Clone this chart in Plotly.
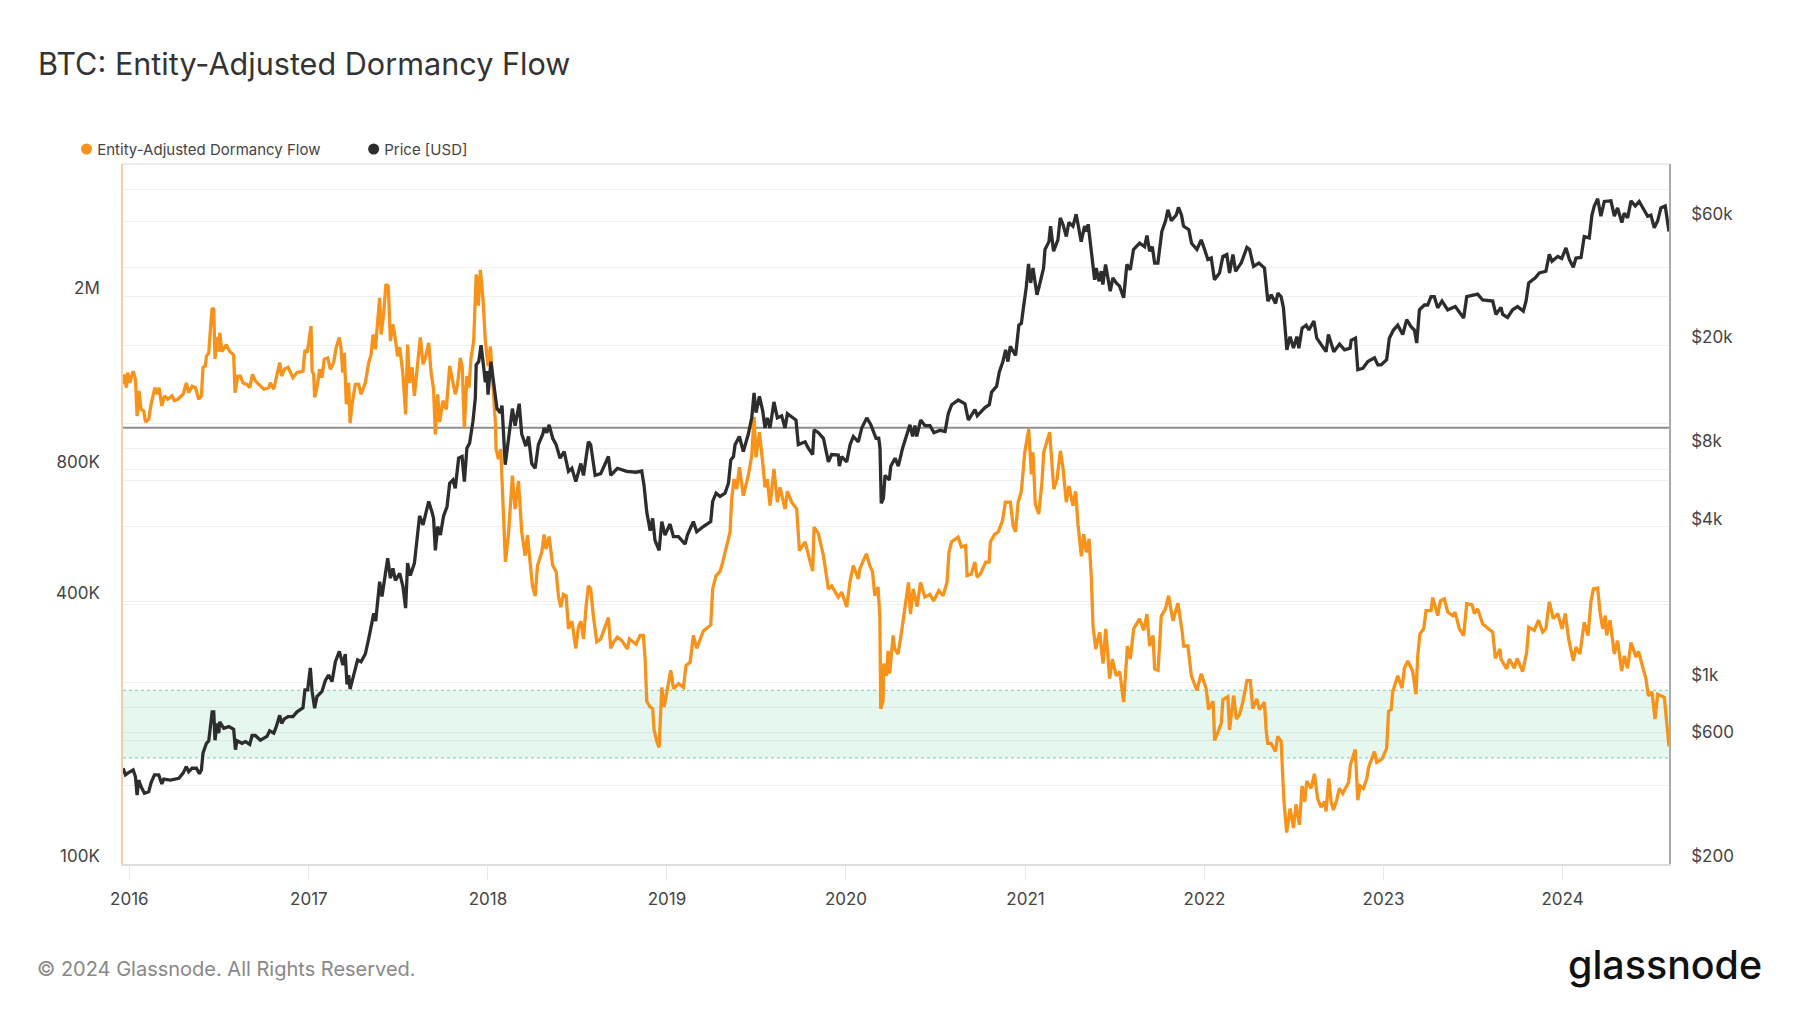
import pandas as pd
import plotly.graph_objects as go

TITLE = "BTC: Entity-Adjusted Dormancy Flow"
FOOTER = "© 2024 Glassnode. All Rights Reserved."
BRAND = "glassnode"
FLOW_NAME = "Entity-Adjusted Dormancy Flow"
PRICE_NAME = "Price [USD]"

flow_years = [
2015.965,2015.972,2015.983,2015.991,2016.002,2016.021,2016.034,2016.043,2016.054,2016.065,2016.080,2016.090,2016.108,2016.121,2016.143,2016.155,2016.166,2016.181,2016.196,2016.214,2016.238,2016.251,2016.270,2016.300,2016.318,2016.331,2016.350,2016.369,2016.387,2016.402,2016.411,2016.424,2016.430,2016.443,2016.456,2016.462,2016.471,2016.478,2016.489,2016.499,2016.504,2016.517,2016.541,2016.560,2016.582,2016.590,2016.605,2016.620,2016.634,2016.657,2016.672,2016.687,2016.703,2016.731,2016.750,2016.778,2016.787,2016.806,2016.820,2016.839,2016.850,2016.865,2016.886,2016.913,2016.936,2016.969,2016.980,2016.992,2017.001,2017.014,2017.020,2017.029,2017.034,2017.047,2017.062,2017.075,2017.088,2017.107,2017.122,2017.140,2017.155,2017.172,2017.181,2017.191,2017.200,2017.211,2017.224,2017.232,2017.243,2017.261,2017.280,2017.293,2017.317,2017.336,2017.349,2017.360,2017.373,2017.386,2017.397,2017.405,2017.419,2017.432,2017.445,2017.457,2017.471,2017.485,2017.497,2017.509,2017.527,2017.542,2017.553,2017.564,2017.578,2017.591,2017.605,2017.624,2017.639,2017.652,2017.671,2017.684,2017.698,2017.708,2017.721,2017.732,2017.750,2017.769,2017.788,2017.806,2017.819,2017.832,2017.847,2017.858,2017.870,2017.884,2017.896,2017.907,2017.922,2017.936,2017.948,2017.959,2017.974,2017.987,2018.002,2018.015,2018.029,2018.043,
2018.047,2018.060,2018.073,2018.088,2018.099,2018.116,2018.138,2018.153,2018.172,2018.190,2018.209,2018.222,2018.237,2018.250,2018.265,2018.278,2018.302,2018.315,2018.326,2018.343,2018.363,2018.382,2018.395,2018.408,2018.423,2018.438,2018.451,2018.470,2018.492,2018.507,2018.520,2018.535,2018.549,2018.562,2018.575,2018.590,2018.609,2018.631,2018.674,2018.687,2018.702,2018.724,2018.749,2018.780,2018.791,2018.828,2018.851,2018.869,2018.879,2018.888,2018.907,2018.921,2018.929,2018.944,2018.957,2018.972,2018.985,2019.000,2019.022,2019.037,2019.065,2019.093,2019.107,2019.130,2019.148,2019.167,2019.204,2019.245,2019.256,2019.275,2019.297,2019.312,2019.334,2019.353,2019.362,2019.375,2019.390,2019.405,2019.427,2019.455,2019.474,2019.487,2019.498,2019.517,2019.535,2019.548,2019.561,2019.576,2019.598,2019.617,2019.632,2019.660,2019.673,2019.697,2019.725,2019.740,2019.772,2019.790,2019.814,2019.822,2019.846,2019.874,2019.902,2019.920,2019.957,2019.976,2020.004,2020.023,2020.041,2020.069,
2020.077,2020.096,2020.114,2020.133,2020.148,2020.161,2020.179,2020.189,2020.194,2020.207,2020.211,2020.226,2020.235,2020.244,2020.263,2020.272,2020.291,2020.310,2020.323,2020.330,2020.349,2020.360,2020.375,2020.397,2020.416,2020.440,2020.468,2020.490,2020.518,2020.542,2020.564,2020.575,2020.589,2020.626,2020.644,2020.668,2020.676,2020.700,2020.719,2020.732,2020.750,2020.780,2020.799,2020.806,2020.830,2020.849,2020.873,2020.890,2020.918,2020.933,2020.946,2020.961,2020.979,2020.998,2021.020,2021.035,2021.044,2021.057,2021.076,2021.094,2021.104,2021.137,2021.160,2021.178,2021.197,2021.212,2021.230,2021.245,2021.267,2021.282,2021.295,2021.314,2021.327,2021.342,2021.357,2021.370,2021.379,2021.394,2021.416,2021.435,2021.450,2021.472,2021.487,2021.509,2021.528,2021.550,2021.571,2021.587,2021.606,2021.639,2021.662,2021.680,2021.695,2021.714,2021.723,2021.742,2021.760,2021.783,2021.801,2021.825,2021.853,2021.877,2021.885,2021.909,2021.928,2021.959,2021.983,2022.011,2022.024,2022.049,2022.058,2022.095,2022.104,2022.132,2022.141,2022.164,2022.179,2022.197,2022.216,2022.238,2022.257,
2022.271,2022.293,2022.308,2022.336,2022.345,2022.354,2022.373,2022.397,2022.410,2022.429,2022.444,2022.460,2022.479,2022.498,2022.512,2022.531,2022.546,2022.561,2022.572,2022.596,2022.615,2022.633,2022.652,2022.671,2022.680,2022.695,2022.708,2022.721,2022.739,2022.754,2022.773,2022.806,2022.816,2022.843,2022.857,2022.870,2022.888,2022.907,2022.918,2022.950,2022.963,2022.992,2023.018,2023.029,2023.043,2023.052,2023.080,2023.104,2023.117,2023.136,2023.163,2023.182,2023.191,2023.204,2023.225,2023.238,2023.266,2023.275,2023.303,2023.318,2023.340,2023.359,2023.387,2023.400,2023.424,2023.448,2023.465,2023.494,2023.508,2023.526,2023.554,2023.587,2023.610,2023.625,2023.651,2023.656,2023.688,2023.703,2023.731,2023.746,2023.777,2023.800,2023.811,2023.842,2023.866,2023.889,2023.907,2023.926,2023.948,2023.973,2023.997,2024.015,2024.034,2024.060,2024.075,2024.097,2024.121,2024.142,2024.159,2024.172,2024.196,2024.209,2024.224,2024.239,2024.246,2024.265,2024.289,2024.307,2024.330,2024.345,2024.363,2024.382,2024.410,2024.424,2024.447,2024.465,2024.479,2024.499,2024.516,2024.531,2024.549,2024.568,2024.581,2024.594,
]
flow_k = [
1257,1325,1235,1338,1267,1348,1291,1063,1215,1102,1092,1030,1046,1132,1235,1193,1235,1122,1183,1162,1183,1153,1162,1193,1267,1203,1245,1235,1162,1183,1375,1385,1458,1485,1755,1880,1868,1438,1610,1495,1650,1495,1550,1495,1470,1203,1313,1313,1267,1257,1235,1325,1280,1245,1225,1235,1267,1225,1291,1410,1313,1361,1375,1302,1338,1348,1508,1485,1565,1710,1348,1325,1173,1235,1361,1302,1435,1445,1361,1410,1530,1610,1525,1338,1485,1132,1267,1024,1132,1257,1257,1193,1267,1410,1470,1635,1513,1755,1985,1635,1820,2130,2110,1580,1725,1595,1458,1530,1325,1073,1550,1267,1375,1183,1338,1610,1398,1445,1565,1338,1225,965,1193,1030,1153,1102,1385,1257,1193,1257,1445,1375,996,1313,1235,1445,1580,2245,1905,2300,1970,1580,1385,1535,1225,1030,
893,847,893,663,493,569,777,651,755,577,509,567,500,434,411,483,518,569,527,563,483,468,412,388,415,412,346,360,312,350,360,328,388,434,427,370,323,328,367,312,322,331,325,311,328,319,334,334,295,236,229,227,203,191,185,254,229,248,278,252,259,254,285,290,334,312,342,353,427,458,468,492,537,577,686,762,723,812,698,777,862,1057,855,977,833,730,762,663,804,675,730,651,715,675,651,523,547,509,469,592,572,509,427,434,409,420,388,445,483,450,
474,495,514,483,468,412,431,370,227,236,288,270,308,273,334,311,303,340,370,399,442,374,427,389,442,409,415,401,423,412,442,518,547,561,533,537,458,462,492,454,462,492,492,547,570,576,611,675,675,596,577,675,715,878,992,782,878,668,634,749,878,977,723,762,885,804,675,735,663,715,601,507,570,518,556,450,351,311,340,288,346,266,295,270,276,235,316,295,346,365,343,374,316,334,280,278,370,384,412,361,396,340,316,316,270,250,273,252,226,236,192,210,238,242,203,243,215,220,236,263,263,
227,239,226,235,204,189,189,181,196,191,141,118,134,121,137,123,151,139,155,149,161,141,135,139,132,157,139,133,140,149,145,154,169,183,140,151,149,157,167,181,171,174,184,224,226,248,270,253,281,292,277,245,298,337,346,381,381,408,371,401,405,378,371,378,346,334,395,393,375,384,355,346,340,296,311,295,280,295,281,296,276,306,349,343,362,340,346,399,365,375,346,375,328,292,314,303,358,334,401,427,429,378,346,371,334,362,303,325,277,300,281,322,298,307,285,266,243,248,215,245,243,241,212,186,
]

price_years = [
2015.965,2015.978,2015.991,2016.021,2016.034,2016.043,2016.052,2016.065,2016.084,2016.108,2016.121,2016.140,2016.164,2016.181,2016.192,2016.229,2016.276,2016.300,2016.318,2016.331,2016.350,2016.374,2016.391,2016.402,2016.411,2016.430,2016.443,2016.456,2016.462,2016.471,2016.478,2016.489,2016.499,2016.504,2016.527,2016.555,2016.582,2016.592,2016.601,2016.629,2016.648,2016.672,2016.685,2016.703,2016.731,2016.768,2016.783,2016.806,2016.820,2016.839,2016.850,2016.865,2016.886,2016.913,2016.936,2016.969,2016.980,2016.995,2017.010,2017.020,2017.034,2017.047,2017.075,2017.094,2017.112,2017.131,2017.150,2017.172,2017.181,2017.192,2017.205,2017.215,2017.224,2017.232,2017.252,2017.274,2017.293,2017.317,2017.336,2017.349,2017.364,2017.375,2017.386,2017.397,2017.410,2017.429,2017.442,2017.457,2017.471,2017.485,2017.509,2017.527,2017.542,2017.553,2017.568,2017.591,2017.602,2017.620,2017.639,2017.671,2017.689,2017.698,2017.708,2017.721,2017.736,2017.754,2017.773,2017.788,2017.806,2017.819,2017.838,2017.857,2017.870,2017.884,2017.899,2017.918,2017.931,2017.936,2017.950,2017.963,2017.974,2017.987,2017.996,2018.002,2018.018,2018.033,2018.052,2018.070,2018.080,2018.098,
2018.116,2018.138,2018.153,2018.176,2018.190,2018.213,2018.228,2018.246,2018.265,2018.283,2018.308,2018.315,2018.330,2018.343,2018.363,2018.382,2018.404,2018.427,2018.451,2018.470,2018.492,2018.507,2018.520,2018.535,2018.549,2018.562,2018.575,2018.600,2018.631,2018.674,2018.687,2018.724,2018.776,2018.828,2018.860,2018.873,2018.888,2018.907,2018.921,2018.934,2018.957,2018.972,2018.990,2019.018,2019.037,2019.065,2019.102,2019.115,2019.148,2019.167,2019.204,2019.245,2019.256,2019.275,2019.297,2019.325,2019.344,2019.357,2019.372,2019.381,2019.405,2019.427,2019.455,2019.474,2019.487,2019.498,2019.517,2019.535,2019.548,2019.561,2019.576,2019.598,2019.617,2019.641,2019.660,2019.673,2019.721,2019.734,2019.772,2019.790,2019.814,2019.822,2019.846,2019.874,2019.902,2019.920,2019.957,2019.963,2019.976,2020.004,2020.023,2020.041,2020.069,2020.088,2020.116,2020.138,2020.168,2020.183,2020.190,2020.197,2020.209,2020.218,2020.242,2020.250,2020.274,2020.292,2020.316,2020.335,2020.357,2020.372,2020.385,2020.395,2020.417,2020.441,2020.469,2020.491,2020.525,2020.553,2020.571,2020.590,2020.627,2020.664,2020.683,2020.720,2020.733,2020.776,2020.800,2020.813,2020.841,
2020.856,2020.876,2020.891,2020.904,2020.917,2020.947,2020.965,2020.979,2020.988,2021.006,2021.019,2021.031,2021.044,2021.066,2021.081,2021.103,2021.111,2021.133,2021.142,2021.159,2021.183,2021.196,2021.211,2021.230,2021.244,2021.267,2021.285,2021.298,2021.313,2021.332,2021.345,2021.352,2021.369,2021.388,2021.397,2021.412,2021.425,2021.434,2021.449,2021.475,2021.490,2021.509,2021.527,2021.550,2021.568,2021.587,2021.605,2021.639,2021.667,2021.680,2021.695,2021.710,2021.723,2021.741,2021.763,2021.784,2021.797,2021.816,2021.843,2021.856,2021.873,2021.884,2021.914,2021.929,2021.959,2021.983,2022.002,2022.020,2022.039,2022.057,2022.085,2022.104,2022.126,2022.141,2022.160,2022.175,2022.193,2022.206,2022.238,2022.253,2022.275,2022.305,2022.336,2022.355,2022.374,2022.398,2022.411,2022.429,2022.442,2022.461,2022.479,2022.498,2022.517,2022.528,2022.546,2022.569,2022.584,2022.612,2022.628,2022.662,2022.680,2022.693,2022.723,2022.755,2022.783,2022.814,2022.820,2022.844,2022.857,2022.885,2022.913,2022.950,2022.969,
2022.987,2023.018,2023.033,2023.056,2023.080,2023.108,2023.130,2023.154,2023.173,2023.186,2023.201,2023.229,2023.247,2023.266,2023.284,2023.303,2023.327,2023.359,2023.401,2023.424,2023.448,2023.465,2023.489,2023.526,2023.554,2023.610,2023.628,2023.656,2023.666,2023.693,2023.721,2023.749,2023.781,2023.796,2023.811,2023.848,2023.870,2023.907,2023.926,2023.941,2023.973,2023.995,2024.019,2024.038,2024.060,2024.075,2024.103,2024.121,2024.149,2024.164,2024.177,2024.196,2024.214,2024.233,2024.270,2024.289,2024.307,2024.331,2024.344,2024.363,2024.382,2024.406,2024.428,2024.475,2024.493,2024.512,2024.531,2024.549,2024.573,2024.594,
]
price_usd = [
468,441,448,461,434,369,421,398,375,380,411,441,441,407,425,421,428,448,475,454,468,468,446,461,535,584,597,749,772,772,600,697,639,707,667,677,662,552,597,584,593,578,626,626,600,621,652,639,677,749,697,725,740,740,772,800,938,938,1140,926,797,884,926,1020,1070,1010,1205,1320,1240,1170,1290,985,1070,945,1070,1225,1205,1290,1480,1670,1850,1730,2120,2450,2150,2690,3020,2530,2760,2480,2640,2350,1940,2890,2590,2890,3390,4400,4060,5000,4550,4300,3240,4000,3710,4400,4770,5880,6050,5620,7340,7450,5960,8020,8380,10200,12500,16800,17300,20000,17300,14400,15900,12900,17300,14400,11400,11000,11700,6930,
8490,11400,9800,11900,9100,8170,8900,7000,6710,8280,9100,9600,9200,9870,8760,8280,7340,7780,6530,6710,5960,6600,7000,6300,7580,8490,8280,6300,6400,7450,6300,6710,6530,6480,6550,5750,4550,3860,4300,3540,3240,4180,3710,4090,3660,3660,3420,3710,4180,3820,4000,4180,5000,5380,5230,5380,5880,7220,7450,8280,8900,7780,9100,10500,13100,11000,12700,11200,9600,10500,9600,12100,10500,10700,9600,10900,10300,8280,8490,8020,7580,9450,9200,8760,7100,7580,7550,6840,7450,7100,8280,8900,8490,9600,10500,9900,8760,8760,8020,4920,5140,6300,6050,6840,7340,6840,8020,8900,9870,8900,9800,8900,10300,9800,9800,9200,9400,9300,10900,11800,12300,11900,10300,11300,10700,11500,11800,13200,13900,
15800,17300,19200,17300,19800,18300,23900,24300,27100,33300,41200,34800,39700,31300,34300,39700,46800,50200,57600,46100,51000,62000,58600,52500,59500,57600,64000,56700,50200,57600,54900,58600,46100,35800,39700,35300,38600,34300,41000,32300,36400,34800,33800,30500,41000,39100,46800,49500,48000,53000,46100,48000,41500,41500,54900,60400,66600,60400,63500,68000,63500,57600,55800,49500,46800,51000,46800,42800,43400,35800,38000,44000,44800,38000,44800,38600,40300,41500,47700,46800,40300,41500,39700,29600,31300,29000,31800,30800,27900,19200,21600,19500,21600,19500,23300,23900,22900,24800,21300,19800,18900,22000,18900,20200,19200,19500,20900,21300,16100,16300,17300,17900,16800,
16800,17600,21300,22900,23900,22000,25100,23600,22900,20400,27400,28600,28600,30800,30800,27900,29600,27400,28200,26700,25500,30800,31100,31500,29900,29600,26300,28000,26300,25600,27400,28200,27100,29600,34800,36400,38000,38600,44800,42200,44000,43200,47500,42800,40000,43400,43600,52500,51900,63500,68900,73500,62900,71700,72100,62900,67700,59500,64600,62000,72100,68900,71700,62900,63500,56700,60400,67700,68900,54900,
]

band_low = 175000
band_high = 250000
reference_level = 1000000

flow_ticks = [100000, 200000, 400000, 800000, 2000000]
flow_text = ["100K", "", "400K", "800K", "2M"]
price_ticks = [200, 400, 600, 800, 1000, 2000, 4000, 6000, 8000, 10000, 20000, 40000, 60000, 80000]
price_text = ["$200", "", "$600", "", "$1k", "", "$4k", "", "$8k", "", "$20k", "", "$60k", ""]
year_ticks = [f"{y}-01-01" for y in range(2016, 2025)]
year_text = [str(y) for y in range(2016, 2025)]

ORANGE = "#F7931A"
DARK = "#2D2D2D"
GRID = "rgba(0,0,0,0.06)"
FONT = "Inter, Noto Sans, sans-serif"

def to_dates(years):
    return [pd.Timestamp("2016-01-01") + pd.Timedelta(days=(y - 2016) * 365.25) for y in years]

fig = go.Figure()
fig.add_trace(go.Scatter(x=to_dates(flow_years), y=[v * 1000 for v in flow_k], mode="lines",
                         name=FLOW_NAME, showlegend=False, yaxis="y",
                         line=dict(color=ORANGE, width=3.3)))
fig.add_trace(go.Scatter(x=to_dates(price_years), y=price_usd, mode="lines",
                         name=PRICE_NAME, showlegend=False, yaxis="y2",
                         line=dict(color=DARK, width=3.3)))
# Legend entries: the keys are transparent here, their dots are drawn at the reference's spacing below
for nm in (FLOW_NAME, PRICE_NAME):
    fig.add_trace(go.Scatter(x=[None], y=[None], mode="markers", name=nm,
                             marker=dict(color="rgba(0,0,0,0)", size=11), yaxis="y"))

# The page keeps an 8px body margin, so the figure is placed 8px in from the window corner
PW, PH = 1792, 1005
L, R, T, B = 114.5, 1661.5, 156.3, 856.3
PLOT_W, PLOT_H = R - L, B - T

def px(x):
    return (x - L) / PLOT_W

def py(y):
    return (B - y) / PLOT_H

def dot(cx, cy, color, r=5.5):
    return dict(type="circle", xref="paper", yref="paper", x0=px(cx - r), x1=px(cx + r),
                y0=py(cy + r), y1=py(cy - r), fillcolor=color, line=dict(width=0), layer="above")

fig.update_layout(
    width=PW, height=PH, autosize=False,
    margin=dict(l=L, r=PW - R, t=T, b=PH - B, pad=0),
    paper_bgcolor="white", plot_bgcolor="white",
    font=dict(family=FONT, color="#444444", size=17),
    title=dict(text=TITLE, x=30 / PW, xanchor="left", y=1 - 56.3 / PH, yanchor="middle",
               font=dict(size=30.6, color="#333333", family=FONT)),
    showlegend=True,
    legend=dict(orientation="h", x=px(76 - 27.3), xanchor="left", y=py(158), yanchor="bottom",
                entrywidth=242, entrywidthmode="pixels", itemsizing="trace",
                font=dict(size=15, color="#444444"), bgcolor="rgba(0,0,0,0)"),
    hovermode=False,
    xaxis=dict(type="date", range=["2015-12-19", "2024-08-05"], tickmode="array",
               tickvals=year_ticks, ticktext=year_text, showgrid=False,
               ticks="outside", ticklen=14, tickcolor="#E8E8E8", tickwidth=1,
               ticklabelstandoff=5, showline=True, linecolor="#DDDDDD", linewidth=2,
               zeroline=False, tickfont=dict(size=17, color="#444444")),
    yaxis=dict(type="log", range=[5, 6.6044], tickmode="array", tickvals=flow_ticks, ticktext=flow_text,
               side="left", showgrid=True, gridcolor=GRID, gridwidth=1, zeroline=False,
               ticks="", ticklabelposition="outside top", ticklabelstandoff=18, ticklabelshift=4,
               showline=True, linecolor="#F9CE9C", linewidth=1.5,
               tickfont=dict(size=17, color="#444444")),
    yaxis2=dict(type="log", range=[2.30103, 5.0], tickmode="array", tickvals=price_ticks, ticktext=price_text,
                overlaying="y", side="right", showgrid=True, gridcolor=GRID, gridwidth=1, zeroline=False,
                ticks="", ticklabelposition="outside top", ticklabelstandoff=17, ticklabelshift=4,
                showline=True, linecolor="#ABABAB", linewidth=1.5,
                tickfont=dict(size=17, color="#444444")),
    shapes=[
        dict(type="rect", xref="paper", yref="y", x0=0, x1=1, y0=band_low, y1=band_high,
             fillcolor="#E6F7EF", line=dict(width=0), layer="below"),
        dict(type="line", xref="paper", yref="y", x0=0, x1=1, y0=band_low, y1=band_low,
             line=dict(color="#7FDCB8", width=1.3, dash="dot"), layer="between"),
        dict(type="line", xref="paper", yref="y", x0=0, x1=1, y0=band_high, y1=band_high,
             line=dict(color="#7FDCB8", width=1.3, dash="dot"), layer="between"),
        dict(type="line", xref="paper", yref="y", x0=0, x1=1, y0=reference_level, y1=reference_level,
             line=dict(color="#8E8E8E", width=2), layer="between"),
        dict(type="line", xref="paper", yref="paper", x0=0, x1=1, y0=1, y1=1,
             line=dict(color="#EBEBEB", width=2), layer="below"),
        dot(78, 141.3, ORANGE),
        dot(365.3, 141.3, DARK),
    ],
    annotations=[
        dict(text=FOOTER, xref="paper", yref="paper", x=px(26.5), y=py(961),
             xanchor="left", yanchor="middle", showarrow=False,
             font=dict(size=20, color="#888888", family=FONT)),
        dict(text=BRAND, xref="paper", yref="paper", x=px(1757), y=py(957),
             xanchor="right", yanchor="middle", showarrow=False,
             font=dict(size=39.4, color="#111111", family=FONT, weight=500)),
    ],
)

fig.write_html("out.html")
